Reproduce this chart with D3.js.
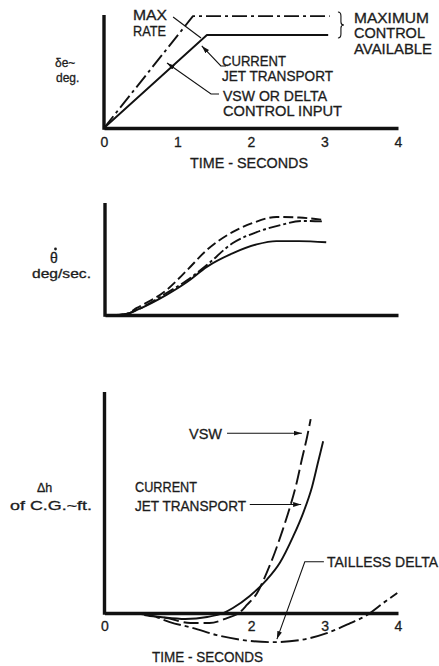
<!DOCTYPE html>
<html><head><meta charset="utf-8">
<script src="https://cdn.jsdelivr.net/npm/d3@7"></script>
<style>
body{margin:0;background:#fff}
text{font-family:"Liberation Sans",Arial,sans-serif;fill:#1c1c1c}
</style>
</head><body>
<svg id="chart" width="439" height="666"></svg>
<script>
// ---------------- data ----------------
const timeDomain = [0, 4];
const timeTicksTop = [0, 1, 2, 3, 4];
const timeTicksBottom = [0, 2, 3, 4];

// Panel 1: elevator input δe (deg) vs time (s)
const deMaxRate = [[0, 0], [1.21, 9.9], [3.07, 9.9]];        // VSW or delta control input (max rate)
const deCurrentJet = [[0, 0], [1.40, 8.23], [3.05, 8.23]];   // current jet transport

// Panel 2: pitch rate θ̇ (deg/sec)
const qVSW = [[0,0],[0.15,0],[0.3,0.12],[0.435,0.63],[0.84,2.23],[1.12,4.0],[1.39,5.8],[1.74,7.4],[2.01,8.2],[2.34,8.75],[2.65,8.7],[2.97,8.5]];
const qDelta = [[0,0],[0.15,0],[0.3,0.1],[0.435,0.45],[0.84,1.96],[1.12,3.1],[1.39,4.46],[1.74,6.4],[2.07,7.4],[2.38,8.0],[2.69,8.4],[2.99,8.35]];
const qCurrent = [[0,0],[0.15,0],[0.3,0.1],[0.435,0.45],[0.84,1.8],[1.12,2.95],[1.39,4.3],[1.74,5.5],[2.07,6.3],[2.34,6.6],[2.65,6.6],[3.02,6.5]];

// Panel 3: Δh of C.G. (ft)
const hCurrent = [[0,0],[0.35,0],[0.76,-0.4],[1.10,-0.6],[1.40,-0.4],[1.62,0],[1.75,0.5],[1.98,1.7],[2.21,3.3],[2.39,5.0],[2.57,7.6],[2.71,10.0],[2.83,12.6],[2.91,15.0],[2.98,17.1]];
const hVSW = [[0,0],[0.35,0],[0.62,-0.3],[0.85,-0.5],[1.17,-1.0],[1.43,-1.0],[1.67,-0.5],[1.85,0.1],[1.94,0.8],[2.08,2.0],[2.21,4.0],[2.32,6.0],[2.43,8.3],[2.53,10.6],[2.62,13.0],[2.69,15.3],[2.76,17.5],[2.81,19.3]];
const hDelta = [[0,0],[0.35,0],[0.62,-0.2],[0.89,-0.9],[1.21,-1.5],[1.53,-2.2],[1.89,-2.7],[2.30,-2.9],[2.66,-2.7],[3.03,-2.0],[3.35,-1.0],[3.58,-0.2],[3.80,1.0],[3.99,2.0]];

// annotation leader lines (data units)
const leadMax = [[0.94, 9.82], [1.32, 7.96]];
const leadCurrentTop = [[1.66, 5.49], [1.59, 5.49], [1.33, 7.26]];
const leadVSWTop = [[1.565, 3.01], [1.456, 3.01], [0.857, 5.75]];
const leadVSWBot = [[1.67, 17.9], [2.69, 17.9]];
const leadCurrentBot = [[1.98, 10.8], [2.68, 10.8]];
const leadDeltaBot = [[2.99, 5.1], [2.73, 5.1], [2.35, -2.6]];

// ---------------- drawing ----------------
const svg = d3.select("#chart");
svg.append("rect").attr("width", 439).attr("height", 666).attr("fill", "#fff");

const defs = svg.append("defs");
defs.append("marker").attr("id", "arr").attr("viewBox", "0 0 10 6")
  .attr("refX", 10).attr("refY", 3).attr("markerWidth", 8).attr("markerHeight", 5)
  .attr("markerUnits", "userSpaceOnUse").attr("orient", "auto")
  .append("path").attr("d", "M0,0L10,3L0,6Z").attr("fill", "#111");

const INK = "#111";
const FONT = '"Liberation Sans",Arial,sans-serif';

const panels = [
  { x: d3.scaleLinear().domain(timeDomain).range([104, 398]),
    y: d3.scaleLinear().domain([0, 10]).range([128, 15]),
    ticks: timeTicksTop, pad: 9 },
  { x: d3.scaleLinear().domain(timeDomain).range([105, 398]),
    y: d3.scaleLinear().domain([0, 10]).range([315, 203]),
    ticks: [], pad: 9 },
  { x: d3.scaleLinear().domain(timeDomain).range([104.5, 398]),
    y: d3.scaleLinear().domain([0, 22]).range([613, 392]),
    ticks: timeTicksBottom, pad: 8 }
];

panels.forEach(p => {
  const xa = d3.axisBottom(p.x).tickValues(p.ticks).tickSize(0).tickSizeOuter(0).tickPadding(p.pad).tickFormat(d3.format("d"));
  const gx = svg.append("g").attr("transform", `translate(0,${p.y(0)})`).call(xa);
  gx.select(".domain").attr("stroke", INK).attr("stroke-width", 3.6);
  gx.selectAll("text").attr("font-size", 14).attr("fill", "#1c1c1c").attr("font-family", FONT)
    .attr("stroke", "#1c1c1c").attr("stroke-width", 0.3);
  const ya = d3.axisLeft(p.y).tickValues([]).tickSize(0).tickSizeOuter(0);
  const gy = svg.append("g").attr("transform", `translate(${p.x(0)},0)`).call(ya);
  gy.select(".domain").attr("stroke", INK).attr("stroke-width", 3.4)
    .attr("d", `M0,${p.y.range()[1]}V${p.y(0) + 1.8}`);
});

function drawLine(p, data, dash, curve, width) {
  const line = d3.line().x(d => p.x(d[0])).y(d => p.y(d[1])).curve(curve || d3.curveLinear);
  svg.append("path").datum(data).attr("d", line)
    .attr("fill", "none").attr("stroke", INK).attr("stroke-width", width || 1.9)
    .attr("stroke-dasharray", dash || null).attr("stroke-linejoin", "round");
}
function drawLeader(p, data, arrow) {
  const line = d3.line().x(d => p.x(d[0])).y(d => p.y(d[1]));
  const path = svg.append("path").datum(data).attr("d", line)
    .attr("fill", "none").attr("stroke", INK).attr("stroke-width", 1.1);
  if (arrow) path.attr("marker-end", "url(#arr)");
}

const [p1, p2, p3] = panels;
// Panel 1
drawLine(p1, deMaxRate, "15,4,3,4");
drawLine(p1, deCurrentJet, null);
drawLeader(p1, leadMax, false);
drawLeader(p1, leadCurrentTop, true);
drawLeader(p1, leadVSWTop, true);

// brace
{
  const xb = p1.x(3.21), y1 = p1.y(10.27), y2 = p1.y(7.96), ym = (y1 + y2) / 2;
  const b = d3.path();
  b.moveTo(xb - 2, y1); b.quadraticCurveTo(xb + 1, y1, xb + 1, y1 + 4);
  b.lineTo(xb + 1, ym - 3); b.quadraticCurveTo(xb + 1, ym, xb + 4, ym);
  b.quadraticCurveTo(xb + 1, ym, xb + 1, ym + 3);
  b.lineTo(xb + 1, y2 - 4); b.quadraticCurveTo(xb + 1, y2, xb - 2, y2);
  svg.append("path").attr("d", b.toString()).attr("fill", "none").attr("stroke", INK).attr("stroke-width", 1.1);
}

// Panel 2
drawLine(p2, qVSW, "10,4", d3.curveMonotoneX);
drawLine(p2, qDelta, "12,3,3,3", d3.curveMonotoneX);
drawLine(p2, qCurrent, null, d3.curveMonotoneX);

// Panel 3
drawLine(p3, hCurrent, null, d3.curveMonotoneX);
drawLine(p3, hVSW, "15,5", d3.curveMonotoneX);
drawLine(p3, hDelta, "18,4,4,4", d3.curveMonotoneX);
drawLeader(p3, leadVSWBot, true);
drawLeader(p3, leadCurrentBot, true);
drawLeader(p3, leadDeltaBot, true);

// ---------------- text ----------------
// [text, x, baseline y, fitted width (or 0), font size]
const labels = [
  // panel 1
  ["MAX", 133, 19.5, 34, 14],
  ["RATE", 133, 36, 33, 14],
  ["CURRENT", 222, 65.5, 64, 14],
  ["JET TRANSPORT", 222, 80.5, 111, 14],
  ["VSW OR DELTA", 223, 100.5, 104, 14],
  ["CONTROL INPUT", 223, 115.5, 119, 14],
  ["MAXIMUM", 354, 22.5, 75, 14],
  ["CONTROL", 354, 38, 71, 14],
  ["AVAILABLE", 354, 53.5, 78, 14],
  ["δe~", 55, 67, 0, 12],
  ["deg.", 56, 81.5, 0, 12],
  ["TIME - SECONDS", 190, 168, 118, 14],
  // panel 2
  ["θ", 50, 263, 0, 14],
  ["deg/sec.", 32, 278, 59, 12],
  // panel 3
  ["VSW", 189, 438.5, 33, 14],
  ["CURRENT", 135, 492, 62, 14],
  ["JET TRANSPORT", 135, 510.5, 111, 14],
  ["TAILLESS DELTA", 327, 567, 111, 14],
  ["Δh", 37, 492, 0, 12.5],
  ["of C.G.~ft.", 10, 510, 82, 12.5],
  ["TIME - SECONDS", 152, 662, 111, 14]
];
const t = svg.append("g").selectAll("text").data(labels).join("text")
  .attr("x", d => d[1]).attr("y", d => d[2])
  .attr("font-size", d => d[4])
  .attr("stroke", "#1c1c1c").attr("stroke-width", 0.3)
  .text(d => d[0]);
t.filter(d => d[3] > 0).attr("textLength", d => d[3]).attr("lengthAdjust", "spacingAndGlyphs");

// dot over theta (part of the θ̇ symbol)
svg.append("circle").attr("cx", 55.5).attr("cy", 249).attr("r", 1.4).attr("fill", "#1c1c1c");
</script>
</body></html>
